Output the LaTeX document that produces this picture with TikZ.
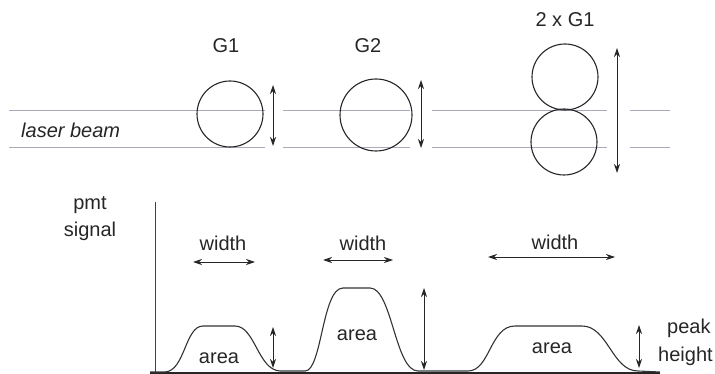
\documentclass[tikz,border=0pt]{standalone}
\usepackage{fontspec}
\setmainfont{Liberation Sans}
\usetikzlibrary{arrows.meta}
\definecolor{beamc}{RGB}{168,170,188}
\begin{document}
\begin{tikzpicture}[x=1pt,y=-1pt,
  lbl/.style={font=\fontsize{20}{22}\selectfont, inner sep=0pt, text=black!85},
  beam/.style={draw=beamc, line width=0.9pt},
  dim/.style={{Stealth[length=9pt,width=6pt]}-{Stealth[length=9pt,width=6pt]}, line width=0.9pt, draw=black!85},
  cell/.style={circle, draw=black!85, line width=1.1pt, inner sep=0pt},
  sig/.style={line width=1.1pt, draw=black!80}]
\useasboundingbox (0,0) rectangle (715,374);
% laser beam lines
\foreach \n/\a/\b in {1/9/265, 2/283/410, 3/432/607, 4/630/670}{
  \coordinate (t\n s) at (\a,110); \coordinate (t\n e) at (\b,110);
  \coordinate (u\n s) at (\a,147); \coordinate (u\n e) at (\b,147);
  \draw[beam] (t\n s) -- (t\n e);
  \draw[beam] (u\n s) -- (u\n e);
}
\node[lbl, anchor=west, font=\fontsize{20}{22}\selectfont\itshape] (beamlbl) at (21,130) {laser beam};
% cells
\node[cell, minimum size=66pt] (g1) at (230,114) {};
\node[cell, minimum size=72pt] (g2) at (376,115) {};
\node[cell, minimum size=66pt] (d1) at (565,77) {};
\node[cell, minimum size=66pt] (d2) at (564,142) {};
\node[lbl] (g1l) at (226,46) {G1};
\node[lbl] (g2l) at (368,46) {G2};
\node[lbl] (dl) at (565,20) {2 x G1};
% size arrows
\coordinate (a1t) at (273,85); \coordinate (a1b) at (273,146);
\coordinate (a2t) at (421,80); \coordinate (a2b) at (421,148);
\coordinate (a3t) at (617,48); \coordinate (a3b) at (617,173);
\draw[dim] (a1t) -- (a1b);
\draw[dim] (a2t) -- (a2b);
\draw[dim] (a3t) -- (a3b);
% signal axes
\node[lbl] (pmt) at (90,205) {pmt};
\node[lbl] (signal) at (90,231) {signal};
\coordinate (ax0) at (155,373); \coordinate (axt) at (155,202);
\coordinate (bl0) at (150,373); \coordinate (bl1) at (660,373);
\draw[line width=0.9pt, draw=black!75] (axt) -- (ax0);
\draw[line width=1.6pt, draw=black!85] (bl0) -- (bl1);
% signal trace
\draw[sig] (150,372) -- (165,372) .. controls (185,371) and (185,326) .. (203,326) -- (235,326)
  .. controls (255,326) and (258,370) .. (280,371) -- (305,371)
  .. controls (322,371) and (322,288) .. (343,288) -- (370,288)
  .. controls (392,288) and (395,371) .. (418,371) -- (468,371)
  .. controls (490,371) and (490,326) .. (515,326) -- (582,326)
  .. controls (608,326) and (612,371) .. (638,371) -- (660,372);
% width arrows
\node[lbl] (w1) at (223,243) {width};
\node[lbl] (w2) at (363,243) {width};
\node[lbl] (w3) at (555,242) {width};
\coordinate (w1a) at (193,262); \coordinate (w1b) at (255,262);
\coordinate (w2a) at (323,260); \coordinate (w2b) at (393,260);
\coordinate (w3a) at (488,257); \coordinate (w3b) at (615,257);
\draw[dim] (w1a) -- (w1b);
\draw[dim] (w2a) -- (w2b);
\draw[dim] (w3a) -- (w3b);
% peak height arrows
\coordinate (p1t) at (273,327); \coordinate (p1b) at (273,368);
\coordinate (p2t) at (424,288); \coordinate (p2b) at (424,370);
\coordinate (p3t) at (639,325); \coordinate (p3b) at (639,368);
\draw[dim] (p1t) -- (p1b);
\draw[dim] (p2t) -- (p2b);
\draw[dim] (p3t) -- (p3b);
% area labels
\node[lbl] (ar1) at (219,358) {area};
\node[lbl] (ar2) at (357,335) {area};
\node[lbl] (ar3) at (552,348) {area};
\node[lbl, anchor=west] (pk) at (667,328) {peak};
\node[lbl, anchor=west] (ht) at (658,356) {height};
\end{tikzpicture}
\end{document}
